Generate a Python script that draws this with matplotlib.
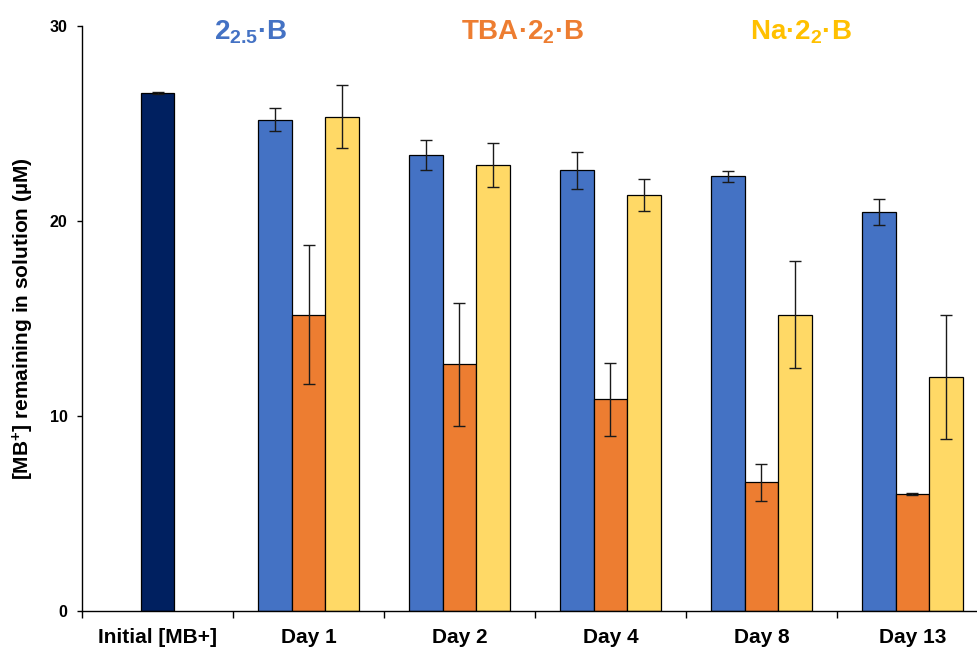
import matplotlib
matplotlib.use("Agg")
import matplotlib.pyplot as plt
from matplotlib import font_manager
import numpy as np

# ---- data ----
categories = ["Initial [MB+]", "Day 1", "Day 2", "Day 4", "Day 8", "Day 13"]
initial_value = 26.58
initial_err = 0.05

series_names = [r"$\mathbf{2_{2.5}}$·B", r"TBA·$\mathbf{2_{2}}$·B", r"Na·$\mathbf{2_{2}}$·B"]
series_a = [25.2, 23.4, 22.6, 22.3, 20.45]
series_a_err = [0.58, 0.76, 0.95, 0.28, 0.68]
series_b = [15.2, 12.65, 10.87, 6.6, 5.98]
series_b_err = [3.57, 3.14, 1.87, 0.94, 0.05]
series_c = [25.35, 22.85, 21.33, 15.2, 12.0]
series_c_err = [1.6, 1.13, 0.81, 2.75, 3.2]

y_ticks = [0, 10, 20, 30]

# ---- style ----
def pick(fam_list):
    for f in fam_list:
        try:
            font_manager.findfont(font_manager.FontProperties(family=f), fallback_to_default=False)
            return f
        except Exception:
            continue
    return "DejaVu Sans"

main_font = pick(["Liberation Sans", "Arial", "DejaVu Sans"])

plt.rcParams["font.family"] = [main_font, "DejaVu Sans"]
plt.rcParams["mathtext.fontset"] = "custom"
plt.rcParams["mathtext.rm"] = main_font + ":bold"
plt.rcParams["mathtext.bf"] = main_font + ":bold"
plt.rcParams["mathtext.it"] = main_font + ":bold"

navy = "#002060"
blue = "#4472C4"
orange = "#ED7D31"
yellow = "#FFD966"
header_colors = ["#4472C4", "#ED7D31", "#FFC000"]

fig = plt.figure(figsize=(9.77, 6.47), dpi=100)
ax_left = 82 / 977
ax_bottom = 1 - 611 / 647
ax_top = 1 - 26 / 647
ax_width = (6 * 151) / 977
ax = fig.add_axes([ax_left, ax_bottom, ax_width, ax_top - ax_bottom])

w = 0.225
x = np.arange(len(categories))
err_kw = dict(ecolor="#1a1a1a", elinewidth=1.0, capsize=4.5, capthick=1.0)

ax.bar(x[0], initial_value, width=w, color=navy, edgecolor="black", linewidth=0.9,
       yerr=initial_err, error_kw=err_kw, zorder=2)

xd = x[1:]
for offs, vals, errs, col in [(-w, series_a, series_a_err, blue),
                              (0.0, series_b, series_b_err, orange),
                              (w, series_c, series_c_err, yellow)]:
    ax.bar(xd + offs, vals, width=w, color=col, edgecolor="black", linewidth=0.9,
           yerr=errs, error_kw=err_kw, zorder=2)

ax.set_xlim(-0.5, len(categories) - 0.5)
ax.set_ylim(0, 30)
ax.set_yticks(y_ticks)
ax.set_yticklabels([str(t) for t in y_ticks], fontweight="bold", fontsize=11.5)

ax.set_xticks(x)
ax.set_xticklabels(categories, fontweight="bold", fontsize=15)
ax.set_xticks(np.arange(len(categories)) - 0.5, minor=True)
ax.tick_params(axis="x", which="major", length=0, pad=12)
ax.tick_params(axis="x", which="minor", length=5, width=1, direction="out")
ax.tick_params(axis="y", length=3.5, width=1, direction="out", pad=7)

for s in ["top", "right"]:
    ax.spines[s].set_visible(False)
for s in ["left", "bottom"]:
    ax.spines[s].set_linewidth(1.0)
    ax.spines[s].set_color("black")

ax.set_ylabel(r"[MB$^{\mathbf{+}}$] remaining in solution (µM)", fontweight="bold", fontsize=15)
ax.yaxis.set_label_coords(-46 / (ax_width * 977), 0.5)

# series headers
header_x = [251, 523, 801]
for name, hx, hc in zip(series_names, header_x, header_colors):
    fig.text(hx / 977, 1 - 39 / 647, name, color=hc, fontsize=20, fontweight="bold",
             ha="center", va="baseline")

fig.savefig("out.png", dpi=100)
